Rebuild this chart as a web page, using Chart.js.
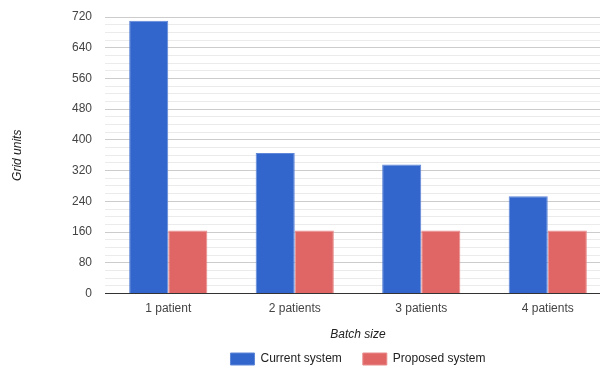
<!DOCTYPE html>
<html>
<head>
<meta charset="utf-8">
<script src="https://cdn.jsdelivr.net/npm/chart.js@4/dist/chart.umd.min.js"></script>
<style>
  html, body { margin: 0; padding: 0; background: #fff; overflow: hidden; }
  #wrap { width: 611px; height: 370px; position: relative; }
</style>
</head>
<body>
<div id="wrap"><canvas id="chart"></canvas></div>
<script>
// Grid units needed per batch size
const categories = ['1 patient', '2 patients', '3 patients', '4 patients'];
const currentSystem = [710, 366, 336, 253];
const proposedSystem = [164, 164, 164, 164];
const seriesNames = ['Current system', 'Proposed system'];
const yMax = 720;
const majorStep = 80;
const minorStep = 20;

const FONT = '"Liberation Sans", Arial, sans-serif';

new Chart(document.getElementById('chart'), {
  type: 'bar',
  data: {
    labels: categories,
    datasets: [
      {
        label: seriesNames[0],
        data: currentSystem,
        backgroundColor: '#3366cc',
        borderColor: '#5f87d8',
        borderWidth: 1
      },
      {
        label: seriesNames[1],
        data: proposedSystem,
        backgroundColor: '#e06666',
        borderColor: '#e98c8c',
        borderWidth: 1
      }
    ]
  },
  options: {
    responsive: true,
    maintainAspectRatio: false,
    animation: false,
    layout: { padding: { top: 17, right: 0, bottom: 0, left: 0 } },
    datasets: { bar: { categoryPercentage: 0.618, barPercentage: 1.0 } },
    plugins: {
      tooltip: { enabled: false },
      legend: {
        position: 'bottom',
        fullSize: false,
        maxHeight: 38,
        labels: {
          boxWidth: 24,
          boxHeight: 12,
          padding: 21,
          color: '#222',
          font: { family: FONT, size: 12 }
        }
      }
    },
    scales: {
      x: {
        grid: { display: false, drawTicks: false },
        border: { display: true, color: '#333', width: 1 },
        ticks: { color: '#444', padding: 8, font: { family: FONT, size: 12 } },
        title: {
          display: true,
          text: 'Batch size',
          color: '#222',
          padding: { top: 0, bottom: -10 },
          font: { family: FONT, size: 12, style: 'italic' }
        },
        afterFit: (scale) => { scale.height = 38.5; }
      },
      y: {
        min: 0,
        max: yMax,
        border: { display: false },
        grid: {
          drawTicks: false,
          color: (ctx) => {
            const v = ctx.tick ? ctx.tick.value : 0;
            if (v === 0) return 'rgba(0,0,0,0)';
            return v % majorStep === 0 ? '#cccccc' : '#ebebeb';
          }
        },
        ticks: {
          stepSize: minorStep,
          autoSkip: false,
          padding: 13,
          color: '#444',
          font: { family: FONT, size: 12 },
          callback: (v) => (v % majorStep === 0 ? String(v) : '')
        },
        title: {
          display: true,
          text: 'Grid units',
          color: '#222',
          padding: { top: 10, bottom: 0 },
          font: { family: FONT, size: 12, style: 'italic' }
        },
        afterFit: (scale) => {
          scale.width = 105;
          scale.paddingTop = 0;
          scale.paddingBottom = 0;
        }
      }
    }
  }
});
</script>
</body>
</html>
